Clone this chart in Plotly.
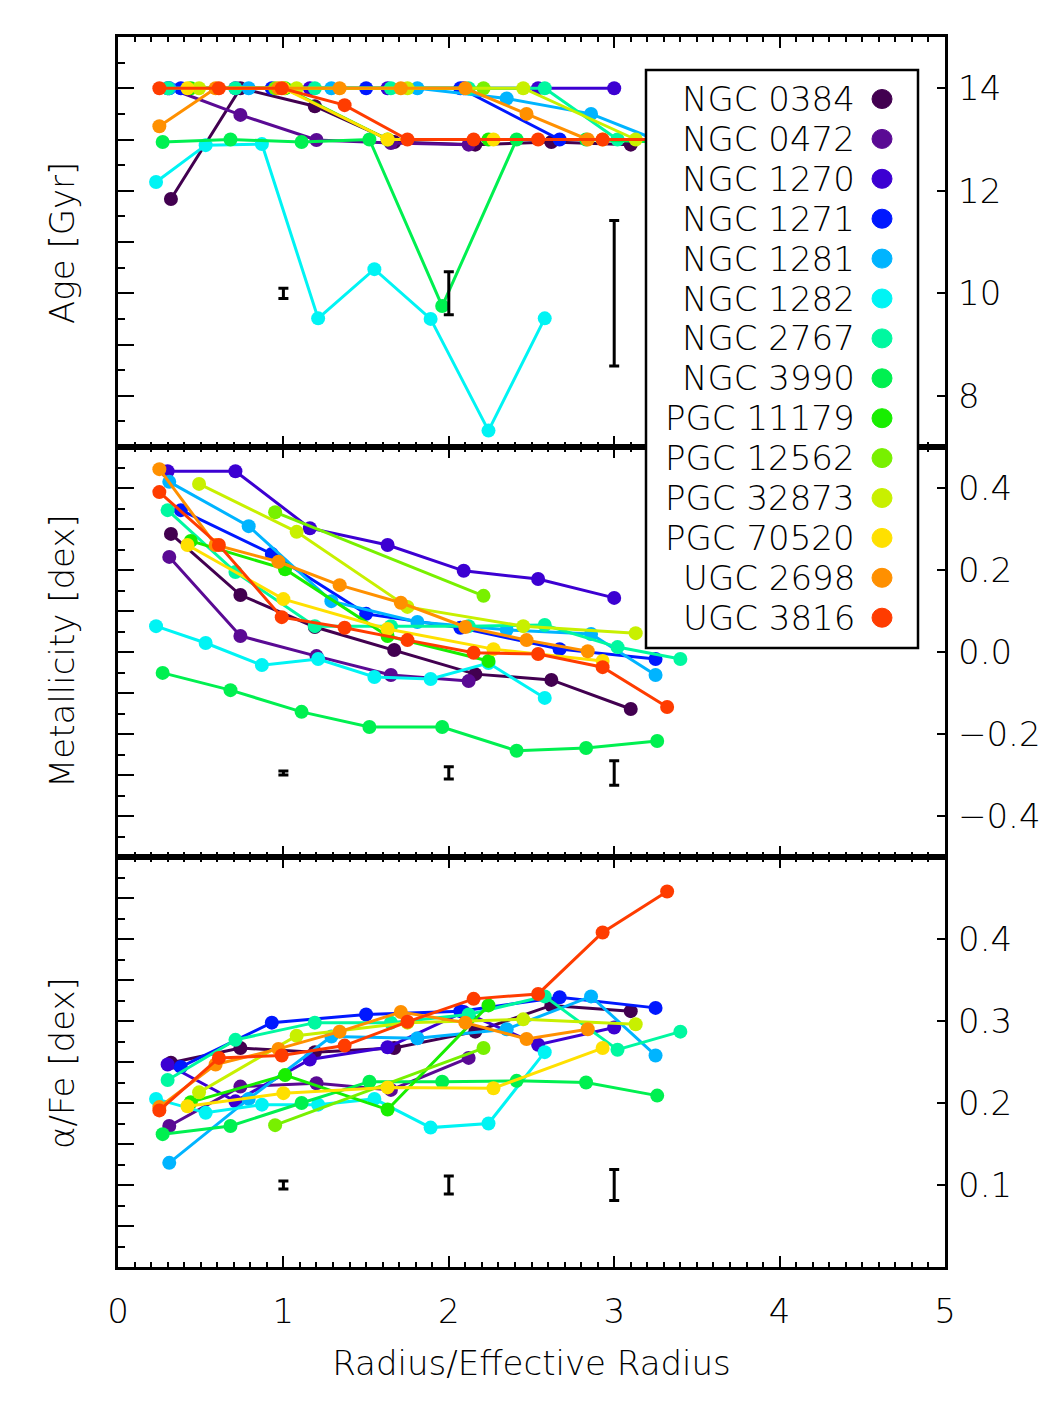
import plotly.graph_objects as go

# ---------------- data ----------------
galaxies = ["NGC 0384", "NGC 0472", "NGC 1270", "NGC 1271", "NGC 1281", "NGC 1282",
            "NGC 2767", "NGC 3990", "PGC 11179", "PGC 12562", "PGC 32873", "PGC 70520",
            "UGC 2698", "UGC 3816"]
colors = ["#420050", "#5a0a94", "#3c00d2", "#0018ff", "#00b4ff", "#00f4f4",
          "#00f8a0", "#00f050", "#18ee00", "#78f000", "#c8f000", "#ffe000",
          "#ff9000", "#ff3c00"]

radius = {
    "NGC 0384": [0.32, 0.74, 1.19, 1.67, 2.16, 2.62, 3.10],
    "NGC 0472": [0.31, 0.74, 1.20, 1.65, 2.12],
    "NGC 1270": [0.30, 0.71, 1.16, 1.63, 2.09, 2.54, 3.00],
    "NGC 1271": [0.38, 0.93, 1.50, 2.07, 2.67, 3.25],
    "NGC 1281": [0.31, 0.79, 1.29, 1.81, 2.35, 2.86, 3.25],
    "NGC 1282": [0.23, 0.53, 0.87, 1.21, 1.55, 1.89, 2.24, 2.58],
    "NGC 2767": [0.30, 0.71, 1.19, 1.65, 2.12, 2.58, 3.02, 3.40],
    "NGC 3990": [0.27, 0.68, 1.11, 1.52, 1.96, 2.41, 2.83, 3.26],
    "PGC 11179": [0.44, 1.01, 1.63, 2.24],
    "PGC 12562": [0.95, 2.21],
    "PGC 32873": [0.49, 1.08, 1.75, 2.45, 3.13],
    "PGC 70520": [0.42, 1.00, 1.63, 2.27, 2.93],
    "UGC 2698": [0.25, 0.59, 0.97, 1.34, 1.71, 2.10, 2.47, 2.84],
    "UGC 3816": [0.25, 0.61, 0.99, 1.37, 1.75, 2.15, 2.54, 2.93, 3.32],
}
age = {
    "NGC 0384": [11.84, 14.0, 13.65, 12.95, 12.9, 12.95, 12.9],
    "NGC 0472": [14.0, 13.48, 12.99, 12.93, 12.9],
    "NGC 1270": [14.0, 14.0, 14.0, 14.0, 14.0, 14.0, 14.0],
    "NGC 1271": [14.0, 14.0, 14.0, 14.0, 13.0, 13.0],
    "NGC 1281": [14.0, 14.0, 14.0, 14.0, 13.8, 13.5, 13.0],
    "NGC 1282": [12.17, 12.89, 12.91, 9.51, 10.47, 9.50, 7.32, 9.51],
    "NGC 2767": [14.0, 14.0, 14.0, 14.0, 14.0, 14.0, 13.0, 13.0],
    "NGC 3990": [12.95, 13.0, 12.95, 13.0, 9.75, 13.0, 13.0, 12.95],
    "PGC 11179": [14.0, 14.0, 13.0, 13.0],
    "PGC 12562": [14.0, 14.0],
    "PGC 32873": [14.0, 14.0, 14.0, 14.0, 13.0],
    "PGC 70520": [14.0, 14.0, 13.0, 13.0, 13.0],
    "UGC 2698": [13.26, 14.0, 14.0, 14.0, 14.0, 14.0, 13.5, 13.0],
    "UGC 3816": [14.0, 14.0, 14.0, 13.67, 13.0, 13.0, 13.0, 13.0, 13.0],
}
metallicity = {
    "NGC 0384": [0.288, 0.139, 0.061, 0.005, -0.054, -0.068, -0.139],
    "NGC 0472": [0.232, 0.039, -0.010, -0.056, -0.071],
    "NGC 1270": [0.441, 0.441, 0.302, 0.261, 0.198, 0.178, 0.132],
    "NGC 1271": [0.346, 0.239, 0.093, 0.059, 0.007, -0.017],
    "NGC 1281": [0.415, 0.307, 0.124, 0.073, 0.054, 0.044, -0.056],
    "NGC 1282": [0.063, 0.022, -0.032, -0.017, -0.061, -0.066, -0.027, -0.112],
    "NGC 2767": [0.346, 0.195, 0.063, 0.063, 0.063, 0.066, 0.012, -0.017],
    "NGC 3990": [-0.051, -0.093, -0.146, -0.183, -0.183, -0.241, -0.234, -0.217],
    "PGC 11179": [0.271, 0.202, 0.039, -0.022],
    "PGC 12562": [0.341, 0.137],
    "PGC 32873": [0.410, 0.293, 0.110, 0.063, 0.046],
    "PGC 70520": [0.261, 0.129, 0.056, 0.007, -0.022],
    "UGC 2698": [0.446, 0.261, 0.220, 0.163, 0.120, 0.061, 0.029, 0.002],
    "UGC 3816": [0.390, 0.261, 0.085, 0.059, 0.029, -0.002, -0.005, -0.037, -0.134],
}
alpha_fe = {
    "NGC 0384": [0.249, 0.267, 0.262, 0.267, 0.287, 0.319, 0.312],
    "NGC 0472": [0.172, 0.220, 0.224, 0.216, 0.255],
    "NGC 1270": [0.247, 0.202, 0.253, 0.268, 0.311, 0.271, 0.292],
    "NGC 1271": [0.244, 0.298, 0.308, 0.312, 0.329, 0.316],
    "NGC 1281": [0.127, 0.205, 0.281, 0.279, 0.290, 0.330, 0.258],
    "NGC 1282": [0.205, 0.188, 0.198, 0.198, 0.205, 0.170, 0.175, 0.262],
    "NGC 2767": [0.228, 0.277, 0.298, 0.298, 0.308, 0.330, 0.265, 0.287],
    "NGC 3990": [0.162, 0.172, 0.200, 0.226, 0.226, 0.227, 0.225, 0.209],
    "PGC 11179": [0.201, 0.234, 0.192, 0.319],
    "PGC 12562": [0.173, 0.267],
    "PGC 32873": [0.213, 0.282, 0.298, 0.302, 0.296],
    "PGC 70520": [0.196, 0.212, 0.219, 0.218, 0.267],
    "UGC 2698": [0.195, 0.247, 0.266, 0.287, 0.311, 0.298, 0.278, 0.290],
    "UGC 3816": [0.191, 0.255, 0.258, 0.270, 0.299, 0.327, 0.333, 0.408, 0.458],
}

# typical error bars
err_x = [1, 2, 3]
age_err_y = [10.0, 10.0, 10.0]
age_err = [0.10, 0.42, 1.42]
met_err_y = [-0.295, -0.295, -0.295]
met_err = [0.005, 0.015, 0.03]
afe_err_y = [0.10, 0.10, 0.10]
afe_err = [0.005, 0.011, 0.019]

x_ticks = [0, 1, 2, 3, 4, 5]
age_ticks = [8, 10, 12, 14]
met_ticks = [-0.4, -0.2, 0.0, 0.2, 0.4]
afe_ticks = [0.1, 0.2, 0.3, 0.4]

# ---------------- figure ----------------
W, H = 1063, 1417
ML, MR, MT, MB = 118, 118, 37, 150
PW, PH = W - ML - MR, H - MT - MB
FONT = "DejaVu Sans"
FS = 34
FW = 200


def px_x(p):
    return (p - ML) / PW


def px_y(p):
    return (H - MB - p) / PH


def fnt():
    return dict(family=FONT, size=FS, color="black", weight=FW)


fig = go.Figure()

panels = [("x", "y", age), ("x2", "y2", metallicity), ("x3", "y3", alpha_fe)]
for xa, ya, dd in panels:
    for g, c in zip(galaxies, colors):
        fig.add_trace(go.Scatter(
            x=radius[g], y=dd[g], xaxis=xa, yaxis=ya, mode="lines+markers",
            line=dict(color=c, width=3), marker=dict(color=c, size=14),
            name=g, showlegend=False, cliponaxis=False))

for xa, ya, yy, ee in [("x", "y4", age_err_y, age_err), ("x2", "y5", met_err_y, met_err),
                       ("x3", "y6", afe_err_y, afe_err)]:
    fig.add_trace(go.Scatter(
        x=err_x, y=yy, xaxis=xa, yaxis=ya, mode="markers",
        marker=dict(size=1, color="black"), showlegend=False,
        error_y=dict(type="data", array=ee, color="black", thickness=3, width=5)))

doms = [[2 / 3, 1.0], [1 / 3, 2 / 3], [0.0, 1 / 3]]
ranges = [[7, 15], [-0.5, 0.5], [0.0, 0.5]]
left_major = [1, 0.1, 0.05]
left_minor = [0.5, 0.05, 0.025]
right_ticks = [age_ticks, met_ticks, afe_ticks]
right_fmt = ["d", ".1f", ".1f"]

lay = dict(width=W, height=H, margin=dict(l=ML, r=MR, t=MT, b=MB),
           paper_bgcolor="white", plot_bgcolor="white", font=fnt())

for i in range(3):
    xn = "xaxis" if i == 0 else f"xaxis{i + 1}"
    yn = "yaxis" if i == 0 else f"yaxis{i + 1}"
    yr = f"yaxis{i + 4}"
    ya_id = "y" if i == 0 else f"y{i + 1}"
    xa_id = "x" if i == 0 else f"x{i + 1}"
    lay[xn] = dict(domain=[0, 1], range=[0, 5], anchor=ya_id,
                   tickmode="array", tickvals=x_ticks,
                   ticks="inside", ticklen=11, tickwidth=2, tickcolor="black",
                   minor=dict(dtick=0.1, tick0=0, ticks="inside", ticklen=5,
                              tickwidth=2, tickcolor="black", showgrid=False),
                   showline=True, linecolor="black", linewidth=2.5, mirror="ticks",
                   showgrid=False, zeroline=False,
                   showticklabels=(i == 2), ticklabelstandoff=12,
                   tickfont=fnt())
    if i == 2:
        lay[xn]["title"] = dict(text="Radius/Effective Radius", font=fnt(), standoff=22)
    lay[yn] = dict(domain=doms[i], range=ranges[i], anchor=xa_id,
                   tick0=0, dtick=left_major[i],
                   ticks="inside", ticklen=16, tickwidth=2, tickcolor="black",
                   minor=dict(dtick=left_minor[i], tick0=0, ticks="inside", ticklen=7,
                              tickwidth=2, tickcolor="black", showgrid=False),
                   showline=True, linecolor="black", linewidth=2.5, mirror=True,
                   showgrid=False, zeroline=False, showticklabels=False)
    lay[yr] = dict(range=ranges[i], anchor=xa_id, overlaying=ya_id, side="right",
                   tickmode="array", tickvals=right_ticks[i], tickformat=right_fmt[i],
                   ticks="inside", ticklen=8, tickwidth=2, tickcolor="black",
                   showline=False, showgrid=False, zeroline=False,
                   ticklabelstandoff=12, tickfont=fnt())

fig.update_layout(**lay)

# y-axis titles on the left
ytitles = ["Age [Gyr]", "Metallicity [dex]", "α/Fe [dex]"]
ycent = [243, 651, 1063]
for t, yc in zip(ytitles, ycent):
    fig.add_annotation(text=t, x=px_x(62), y=px_y(yc), xref="paper", yref="paper",
                       textangle=-90, showarrow=False, xanchor="center", yanchor="middle",
                       font=fnt())

# manual legend (markers to the right of the names)
fig.add_shape(type="rect", xref="paper", yref="paper",
              x0=px_x(646), x1=px_x(918), y0=px_y(648), y1=px_y(70),
              line=dict(color="black", width=2.5), fillcolor="white", layer="above")
for k, (g, c) in enumerate(zip(galaxies, colors)):
    yc = 99 + 39.9 * k
    fig.add_annotation(text=g, x=px_x(857), y=px_y(yc), xref="paper", yref="paper",
                       showarrow=False, xanchor="right", yanchor="middle",
                       font=fnt())
    fig.add_shape(type="circle", xref="paper", yref="paper",
                  x0=px_x(872), x1=px_x(892), y0=px_y(yc + 9.5), y1=px_y(yc - 9.5),
                  line=dict(color=c, width=1), fillcolor=c, layer="above")

fig.write_html("out.html")
